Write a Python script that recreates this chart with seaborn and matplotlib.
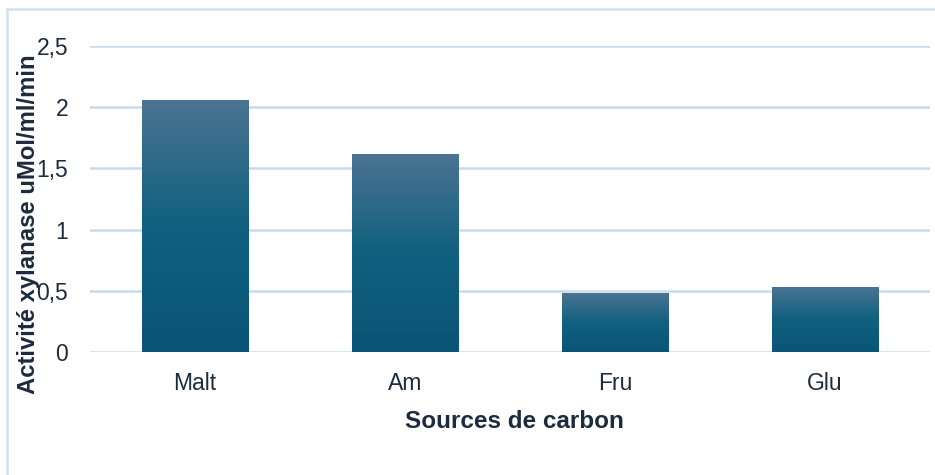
import numpy as np
import pandas as pd
import matplotlib
matplotlib.use("Agg")
import matplotlib.pyplot as plt
from matplotlib.colors import LinearSegmentedColormap
from matplotlib.patches import Rectangle
import seaborn as sns

# Data
categories = ["Malt", "Am", "Fru", "Glu"]
activity = [2.06, 1.62, 0.48, 0.535]
y_ticks = [0, 0.5, 1, 1.5, 2, 2.5]
y_tick_labels = ["0", "0,5", "1", "1,5", "2", "2,5"]

TEXT = "#1c2b3f"
GRID = "#c8dbf0"

sns.set_theme(style="white")
plt.rcParams["font.family"] = ["Liberation Sans", "DejaVu Sans"]

W, H, DPI = 935, 475, 100
fig = plt.figure(figsize=(W / DPI, H / DPI), dpi=DPI)
ax = fig.add_axes([90 / W, 1 - 352 / H, 840 / W, 306 / H])

df = pd.DataFrame({"source": categories, "activity": activity})
sns.barplot(data=df, x="source", y="activity", color="#10607f",
            width=0.505, ax=ax, zorder=2)

# vertical gradient fill on each bar
grad_cmap = LinearSegmentedColormap.from_list(
    "bar_grad", [(0.0, "#0a5577"), (0.5, "#10607f"), (1.0, "#4b7492")])
gradient = np.linspace(0, 1, 256).reshape(-1, 1)
for patch in list(ax.patches):
    x0, y0 = patch.get_x(), patch.get_y()
    w, h = patch.get_width(), patch.get_height()
    im = ax.imshow(gradient, cmap=grad_cmap, origin="lower", aspect="auto",
                   extent=[x0, x0 + w, y0, y0 + h], zorder=3,
                   interpolation="bilinear")
    im.set_clip_path(patch)
    patch.set_edgecolor("none")

ax.set_xlim(-0.5, 3.5)
ax.set_ylim(0, 2.5)
ax.set_yticks(y_ticks)
ax.set_yticklabels(y_tick_labels)

ax.set_axisbelow(True)
ax.yaxis.grid(True, color=GRID, linewidth=1.8)
ax.xaxis.grid(False)
for s in ax.spines.values():
    s.set_visible(False)

ax.tick_params(axis="x", length=0, pad=14.5, labelsize=16.5, labelcolor=TEXT)
ax.tick_params(axis="y", length=0, pad=15.8, labelsize=16.5, labelcolor=TEXT)

ax.set_xlabel("Sources de carbon", fontsize=17.5, fontweight="bold",
              color=TEXT, va="center")
ax.xaxis.set_label_coords((514 - 90) / 840, (352 - 421) / 306)
ax.set_ylabel("Activité xylanase uMol/ml/min", fontsize=17.2,
              fontweight="bold", color=TEXT, va="center", ha="center")
ax.yaxis.set_label_coords((29 - 90) / 840, (352 - 224) / 306)

# chart area border (left and top edges visible, others run off the canvas)
top = 1 - 9 / H
fig.add_artist(Rectangle((7 / W, -0.1), 1.2, top + 0.1,
                         transform=fig.transFigure, fill=False,
                         edgecolor="#d0e0f2", linewidth=1.8))

fig.savefig("out.png", dpi=DPI, facecolor="white")
